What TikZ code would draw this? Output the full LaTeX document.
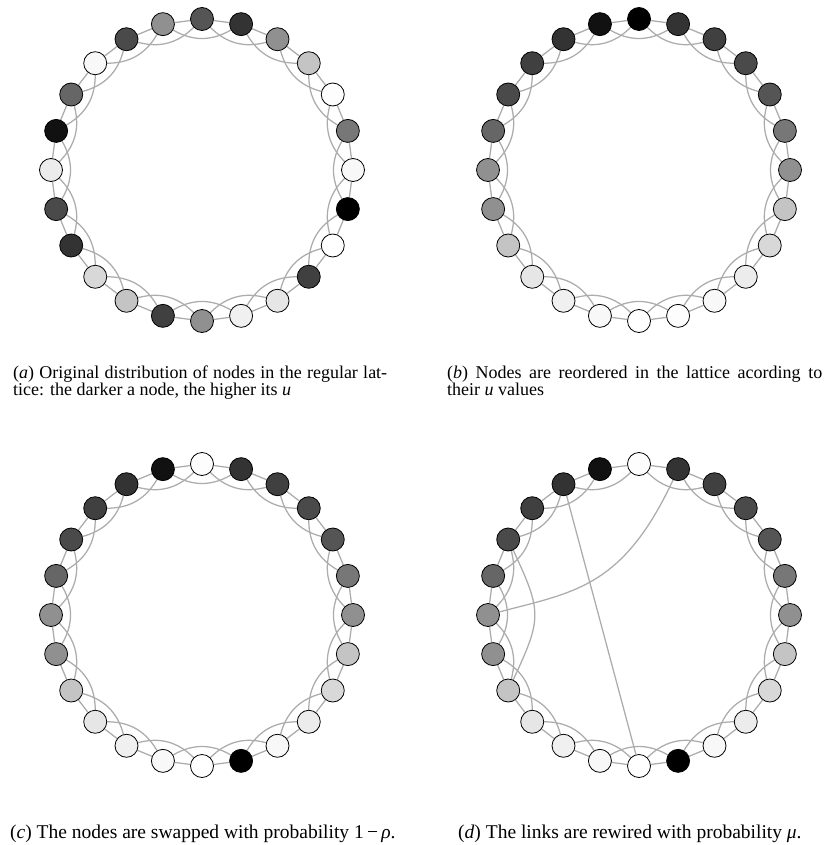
\documentclass[tikz,border=0pt]{standalone}
\usepackage{fontspec}
\setmainfont{Liberation Serif}
\usetikzlibrary{calc}
\pgfdeclarelayer{bg}
\pgfdeclarelayer{canvas}
\pgfsetlayers{canvas,bg,main}
\tikzset{
  ringnode/.style={circle, draw=black, line width=0.8pt, minimum size=23pt, inner sep=0pt},
  lattice/.style={draw={rgb,255:red,172;green,172;blue,172}, line width=1.25pt},
  captext/.style={font=\fontsize{18}{17}\selectfont, inner sep=0pt, anchor=base west},
  captextb/.style={font=\fontsize{19.5}{17}\selectfont, inner sep=0pt, anchor=base west},
}
\newcommand\drawring[4]{%
  \foreach \v [count=\k from 0] in {#4} {
    \node[ringnode, fill={rgb,255:red,\v;green,\v;blue,\v}] (#1\k) at ($(#2,-#3)+({90-15*\k}:151)$) {};
  }%
}
\newcommand\drawlinks[2]{%
  \begin{pgfonlayer}{bg}
  \foreach \k in {0,...,23} {
    \pgfmathtruncatemacro\kn{mod(\k+1,24)}
    \pgfmathtruncatemacro\kk{mod(\k+2,24)}
    \draw[lattice] (#1\k) -- (#1\kn);
    \ifnum\k=#2\relax\else
      \draw[lattice] (#1\k) to[bend right=30] (#1\kk);
    \fi
  }
  \end{pgfonlayer}%
}
\begin{document}
\begin{tikzpicture}[x=1pt,y=1pt]
\useasboundingbox (0,0) rectangle (825,-845);
\begin{pgfonlayer}{canvas}
\fill[white] (0,0) rectangle (825,-845);
\end{pgfonlayer}
% panel a
\drawring{a}{202}{170}{85,51,144,196,253,119,248,0,255,64,230,240,144,64,196,216,51,74,236,17,102,248,74,144}
\drawlinks{a}{-1}
% panel b
\drawring{b}{639}{170}{0,51,64,74,85,119,144,196,216,236,248,253,255,248,240,230,196,144,144,102,74,64,51,17}
\drawlinks{b}{-1}
% panel c
\drawring{c}{202}{615}{253,51,64,74,85,119,144,196,216,236,248,0,255,248,240,230,196,144,144,102,74,64,51,17}
\drawlinks{c}{-1}
% panel d
\drawring{d}{639}{615}{253,51,64,74,85,119,144,196,216,236,248,0,255,248,240,230,196,144,144,102,74,64,51,17}
\drawlinks{d}{23}
\begin{pgfonlayer}{bg}
\draw[lattice] (d22) -- (d12);
\draw[lattice] (d1) to[out=-115,in=15,out looseness=1.4,in looseness=0.9] (d18);
\draw[lattice] (d20) to[out=-65,in=65,looseness=1.35] (d16);
\end{pgfonlayer}
% captions
\node[captext] (capa1) at (13,-378) {\makebox[374pt][s]{(\textit{a}) Original distribution of nodes in the regular lat-}};
\node[captext] (capa2) at (13,-395) {tice: the darker a node, the higher its \textit{u}};
\node[captext] (capb1) at (447,-378) {\makebox[375pt][s]{(\textit{b}) Nodes are reordered in the lattice acording to}};
\node[captext] (capb2) at (447,-395) {their \textit{u} values};
\node[captextb] (capc) at (10,-838) {(\textit{c}) The nodes are swapped with probability 1\,−\,\textit{ρ}.};
\node[captextb] (capd) at (458,-838) {(\textit{d}) The links are rewired with probability \textit{μ}.};
\end{tikzpicture}
\end{document}
